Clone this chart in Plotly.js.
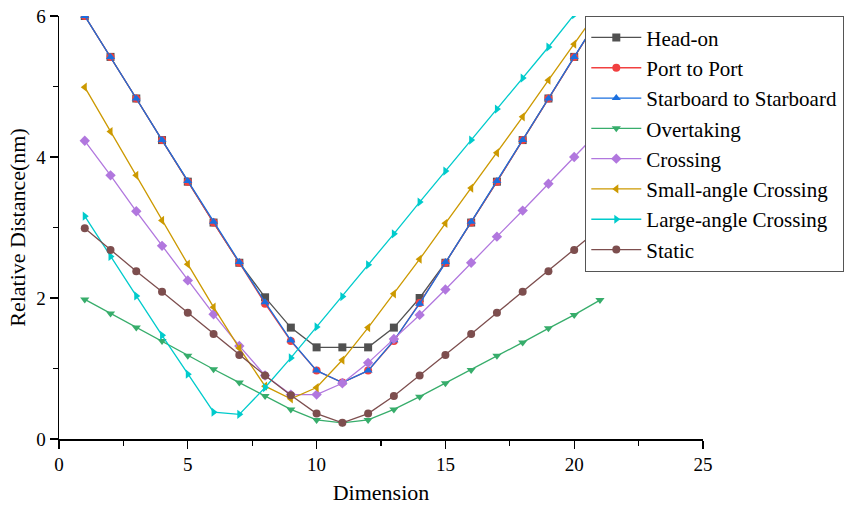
<!DOCTYPE html>
<html>
<head>
<meta charset="utf-8">
<script src="https://cdn.plot.ly/plotly-3.0.1.min.js"></script>
<style>
html,body{margin:0;padding:0;background:#fff;}
#chart{width:855px;height:505px;}
</style>
</head>
<body>
<div id="chart"></div>
<script>
const dimension = [1,2,3,4,5,6,7,8,9,10,11,12,13,14,15,16,17,18,19,20,21];
const headOn      = [6.00,5.42,4.83,4.24,3.65,3.07,2.50,2.01,1.58,1.30,1.30,1.30,1.58,2.00,2.50,3.07,3.65,4.24,4.83,5.42,6.00];
const portToPort  = [6.00,5.42,4.83,4.24,3.65,3.07,2.50,1.92,1.39,0.97,0.80,0.97,1.39,1.93,2.50,3.07,3.65,4.24,4.83,5.42,6.00];
const starToStar  = [6.00,5.42,4.83,4.24,3.66,3.08,2.51,1.94,1.40,0.97,0.80,0.97,1.40,1.92,2.51,3.08,3.66,4.24,4.83,5.42,6.00];
const overtaking  = [1.98,1.78,1.58,1.39,1.18,0.99,0.80,0.61,0.42,0.27,0.23,0.27,0.42,0.60,0.79,0.98,1.18,1.37,1.57,1.76,1.97];
const crossing    = [4.23,3.74,3.23,2.74,2.25,1.77,1.32,0.90,0.63,0.63,0.79,1.08,1.42,1.76,2.12,2.50,2.87,3.24,3.62,4.00,4.38];
const smallAngle  = [4.99,4.36,3.74,3.10,2.48,1.87,1.29,0.75,0.57,0.73,1.12,1.58,2.06,2.55,3.06,3.56,4.06,4.57,5.09,5.60,6.12];
const largeAngle  = [3.16,2.59,2.03,1.47,0.92,0.38,0.35,0.73,1.15,1.59,2.02,2.47,2.91,3.36,3.80,4.24,4.68,5.12,5.56,6.02,6.46];
const staticCase  = [2.99,2.68,2.38,2.09,1.79,1.49,1.19,0.90,0.62,0.36,0.23,0.36,0.61,0.90,1.19,1.49,1.79,2.09,2.38,2.68,2.99];

const seriesNames = ["Head-on","Port to Port","Starboard to Starboard","Overtaking","Crossing","Small-angle Crossing","Large-angle Crossing","Static"];
const seriesData = [headOn, portToPort, starToStar, overtaking, crossing, smallAngle, largeAngle, staticCase];
const colors = ["#515151","#F14040","#1A6FDF","#37AD6B","#B177DE","#CC9900","#00CBCC","#7D4E4E"];
const symbols = ["square","circle","triangle-up","triangle-down","diamond","triangle-left","triangle-right","circle"];

const font = "Liberation Serif";
const traces = seriesNames.map((n,i)=>({
  x: dimension, y: seriesData[i], type: 'scatter', mode: 'lines+markers', name: n,
  line: {color: colors[i], width: 1.3},
  marker: {color: colors[i], symbol: symbols[i], size: 8}
}));

const layout = {
  width: 855, height: 505,
  margin: {l: 59, r: 151, t: 16, b: 66},
  paper_bgcolor: '#fff', plot_bgcolor: '#fff',
  showlegend: true,
  font: {family: font, color: '#000'},
  xaxis: {
    range: [0, 25], tickvals: [0,5,10,15,20,25], ticks: 'outside', ticklen: 8, tickwidth: 1.3,
    tickcolor: '#000', showline: true, linecolor: '#000', linewidth: 1.5, showgrid: false, zeroline: false,
    tickfont: {family: font, size: 19, color: '#000'},
    minor: {tickvals: [2.5,7.5,12.5,17.5,22.5], ticks: 'outside', ticklen: 5, tickwidth: 1.3, tickcolor: '#000', showgrid: false},
    title: {text: 'Dimension', font: {family: font, size: 22, color: '#000'}, standoff: 17}
  },
  yaxis: {
    range: [0, 6], tickvals: [0,2,4,6], ticks: 'outside', ticklen: 8, tickwidth: 1.3,
    tickcolor: '#000', showline: true, linecolor: '#000', linewidth: 1.5, showgrid: false, zeroline: false,
    tickfont: {family: font, size: 19, color: '#000'},
    minor: {tickvals: [1,3,5], ticks: 'outside', ticklen: 5, tickwidth: 1.3, tickcolor: '#000', showgrid: false},
    title: {text: 'Relative Distance(nm)', font: {family: font, size: 22, color: '#000'}, standoff: 4}
  },
  legend: {
    x: 0.8155, xanchor: 'left', y: 1.0, yanchor: 'top',
    bgcolor: '#fff', bordercolor: '#555', borderwidth: 1.3,
    font: {family: font, size: 21, color: '#000'},
    itemwidth: 50, tracegroupgap: 0
  }
};
Plotly.newPlot('chart', traces, layout, {displayModeBar: false, staticPlot: true});
</script>
</body>
</html>
